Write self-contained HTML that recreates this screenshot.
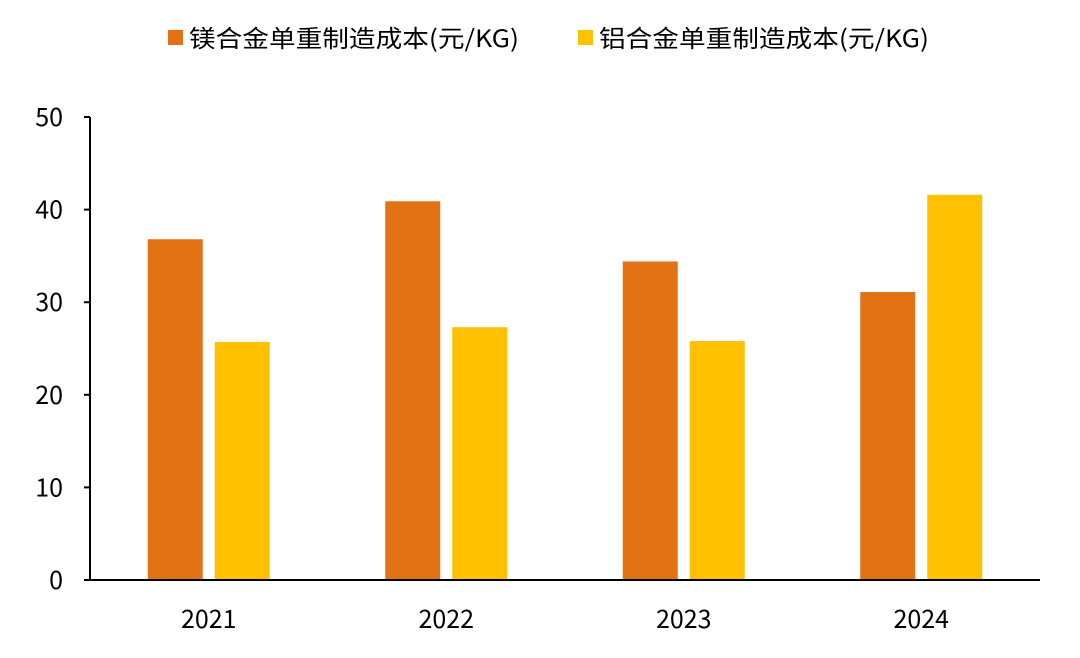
<!DOCTYPE html>
<html><head><meta charset="utf-8"><style>
body{margin:0;background:#fff;width:1080px;height:653px;overflow:hidden}
</style></head><body>
<svg id="c" width="1080" height="653" style="font-family:'Noto Sans CJK SC','Liberation Sans',sans-serif"></svg>
<script>
const categories=["2021","2022","2023","2024"];
const magnesiumCost=[36.8,40.9,34.4,31.1];
const aluminumCost=[25.7,27.3,25.8,41.6];
const yTicks=[0,10,20,30,40,50];
const seriesNames=["镁合金单重制造成本(元/KG)","铝合金单重制造成本(元/KG)"];
const NS="http://www.w3.org/2000/svg";
const svg=document.getElementById('c');
const x0=90,x1=1040,y0=580,yTop=117,yMax=50;
const y=v=>y0-(y0-yTop)*v/yMax;
const bw=(x1-x0)/categories.length;
function el(t,a,txt){const e=document.createElementNS(NS,t);for(const k in a)e.setAttribute(k,a[k]);if(txt!==undefined)e.textContent=txt;svg.appendChild(e);return e;}
yTicks.forEach(t=>{
 const tk=el('line',{x1:x0-6,x2:x0,y1:y(t),y2:y(t),stroke:'#000','stroke-width':2});
 
 
 const lb=el('text',{x:63,y:y(t)+9,'text-anchor':'end','font-size':25,fill:'#000'},t);
 
 
});
const series=[magnesiumCost,aluminumCost];
const colors=["#E37215","#FFC000"];
categories.forEach((c,i)=>{
 const cx=x0+bw*(i+0.5);
 series.forEach((s,j)=>{
  const bx=j===0?cx-61:cx+6;
  const r=el('rect',{x:bx,y:y(s[i]),width:55,height:y0-y(s[i]),fill:colors[j]});
  
  
 });
 const lb=el('text',{x:cx,y:628,'text-anchor':'middle','font-size':25,fill:'#000'},c);
 
 
});
const ya=el('line',{x1:x0,x2:x0,y1:yTop,y2:y0,stroke:'#000','stroke-width':2});


const xa=el('line',{x1:x0,x2:x1,y1:y0,y2:y0,stroke:'#000','stroke-width':2});


[168,578].forEach((lx,j)=>{
 const sq=el('rect',{x:lx,y:30,width:15,height:15,fill:colors[j]});
 
 
 const t=el('text',{x:lx+21,y:47,'font-size':24,fill:'#000',textLength:330,lengthAdjust:'spacingAndGlyphs'},seriesNames[j]);
 
 
});
</script>
</body></html>
